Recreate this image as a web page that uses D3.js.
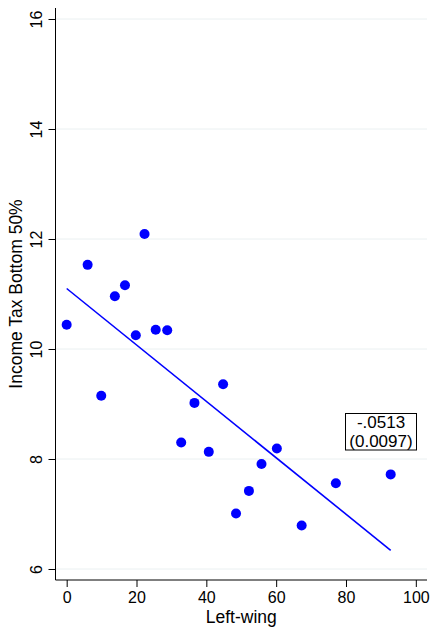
<!DOCTYPE html>
<html><head><meta charset="utf-8">
<script src="https://cdn.jsdelivr.net/npm/d3@7"></script>
<style>
html,body{margin:0;padding:0;background:#fff;}
svg{display:block;font-family:"Liberation Sans",Arial,Helvetica,sans-serif;}
</style></head>
<body>
<svg id="chart" width="432" height="630"></svg>
<script>
const leftWing = [0, 6.0, 9.9, 13.8, 16.7, 19.8, 22.3, 25.5, 28.8, 32.8, 36.6, 40.7, 44.8, 48.5, 52.2, 55.8, 60.2, 67.3, 77.1, 92.8];
const incomeTax = [10.44, 11.53, 9.15, 10.96, 11.16, 10.25, 12.09, 10.35, 10.34, 8.30, 9.02, 8.13, 9.36, 7.01, 7.42, 7.91, 8.19, 6.79, 7.56, 7.72];
const fitX = [0, 92.8];
const fitY = [11.10, 6.34];
const xTicks = [0, 20, 40, 60, 80, 100];
const yTicks = [6, 8, 10, 12, 14, 16];
const coefLabel = ["-.0513", "(0.0097)"];
const xTitle = "Left-wing";
const yTitle = "Income Tax Bottom 50%";

const svg = d3.select("#chart");
const L = 55.5, R = 427, T = 8, B = 580;
const x = d3.scaleLinear().domain([-3.2, 103.2]).range([L, R]);
const y = d3.scaleLinear().domain([5.8, 16.2]).range([B, T]);

// gridlines
svg.append("g").selectAll("line").data(yTicks).join("line")
  .attr("x1", L).attr("x2", R)
  .attr("y1", d => y(d)).attr("y2", d => y(d))
  .attr("stroke", "#eaf0f1").attr("stroke-width", 1);

// y axis
const gy = svg.append("g").attr("transform", `translate(${L},0)`)
  .call(d3.axisLeft(y).tickValues(yTicks).tickSize(7).tickPadding(6).tickSizeOuter(0));
gy.select(".domain").attr("stroke", "#000").attr("d", `M0,${T}V${B}`);
gy.selectAll(".tick line").attr("stroke", "#000");
gy.selectAll(".tick text")
  .attr("font-size", 16).attr("fill", "#000")
  .attr("text-anchor", "middle")
  .attr("x", 0).attr("dy", 0)
  .attr("transform", "translate(-14,0) rotate(-90)");

// x axis
const gx = svg.append("g").attr("transform", `translate(0,${B})`)
  .call(d3.axisBottom(x).tickValues(xTicks).tickSize(7).tickPadding(5).tickSizeOuter(0));
gx.select(".domain").attr("stroke", "#000").attr("d", `M${L},0H${R}`);
gx.selectAll(".tick line").attr("stroke", "#000");
gx.selectAll(".tick text").attr("font-size", 16).attr("fill", "#000");

// titles
svg.append("text").attr("x", (L + R) / 2).attr("y", 623)
  .attr("text-anchor", "middle").attr("font-size", 17.5).attr("fill", "#000").text(xTitle);
svg.append("text").attr("transform", `translate(22,${(T + B) / 2}) rotate(-90)`)
  .attr("text-anchor", "middle").attr("font-size", 17.5).attr("fill", "#000").text(yTitle);

// fit line
svg.append("line")
  .attr("x1", x(fitX[0])).attr("y1", y(fitY[0]))
  .attr("x2", x(fitX[1])).attr("y2", y(fitY[1]))
  .attr("stroke", "#0000ff").attr("stroke-width", 1.6);

// points
svg.append("g").selectAll("circle").data(leftWing.map((d, i) => [d, incomeTax[i]])).join("circle")
  .attr("cx", d => x(d[0])).attr("cy", d => y(d[1])).attr("r", 5)
  .attr("fill", "#0000ff");

// coefficient box
const box = svg.append("g");
const rect = box.append("rect").attr("fill", "#fff").attr("stroke", "#000").attr("stroke-width", 1);
const txt = box.append("text").attr("text-anchor", "middle").attr("font-size", 17).attr("fill", "#000");
txt.selectAll("tspan").data(coefLabel).join("tspan")
  .attr("x", 381).attr("y", (d, i) => 428 + i * 18.5).text(d => d);
const bb = txt.node().getBBox();
rect.attr("x", 345.5).attr("y", 413.5).attr("width", 71).attr("height", 36.5);
</script>
</body></html>
